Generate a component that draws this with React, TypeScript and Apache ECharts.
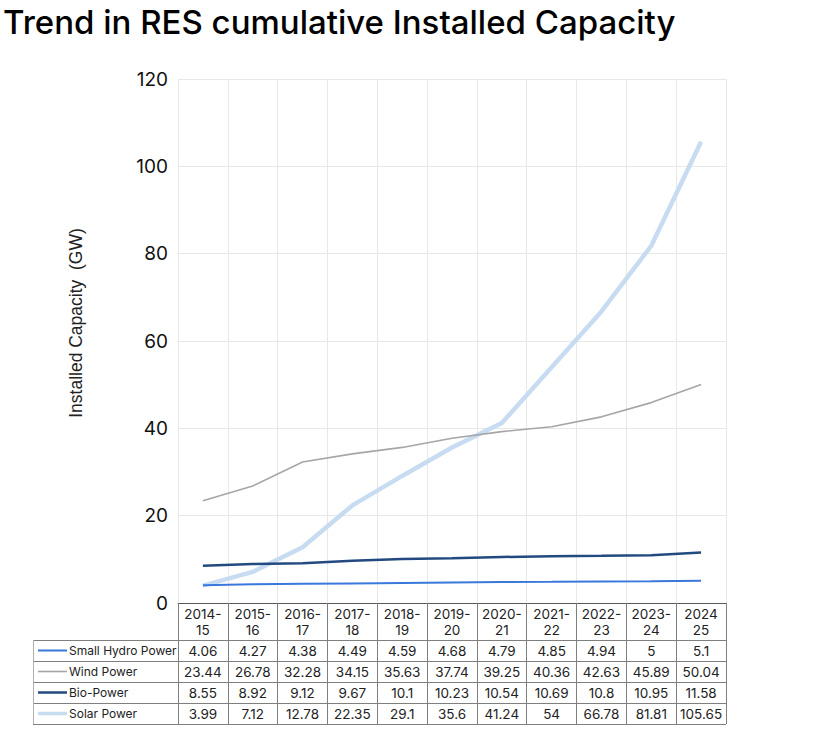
import React, { useEffect, useRef } from "react";
import * as echarts from "echarts";

const categories = ["2014-15", "2015-16", "2016-17", "2017-18", "2018-19", "2019-20", "2020-21", "2021-22", "2022-23", "2023-24", "2024-25"];
const headerLabels = ["2014-\n15", "2015-\n16", "2016-\n17", "2017-\n18", "2018-\n19", "2019-\n20", "2020-\n21", "2021-\n22", "2022-\n23", "2023-\n24", "2024\n25"];
const seriesNames = ["Small Hydro Power", "Wind Power", "Bio-Power", "Solar Power"];
const smallHydro = [4.06, 4.27, 4.38, 4.49, 4.59, 4.68, 4.79, 4.85, 4.94, 5, 5.1];
const wind = [23.44, 26.78, 32.28, 34.15, 35.63, 37.74, 39.25, 40.36, 42.63, 45.89, 50.04];
const bio = [8.55, 8.92, 9.12, 9.67, 10.1, 10.23, 10.54, 10.69, 10.8, 10.95, 11.58];
const solar = [3.99, 7.12, 12.78, 22.35, 29.1, 35.6, 41.24, 54, 66.78, 81.81, 105.65];
const yMin = 0;
const yMax = 120;
const yStep = 20;
const titleText = "Trend in RES cumulative Installed Capacity";
const yAxisTitle = "Installed Capacity  (GW)";

const seriesData = [smallHydro, wind, bio, solar];
const seriesColors = ["#3a78dc", "#a6a6a6", "#234a80", "#c8dcf1"];
const seriesWidths = [2, 1.6, 2.5, 4.5];

export default function App() {
  const ref = useRef<HTMLDivElement>(null);
  useEffect(() => {
    if (!ref.current) return;
    const chart = echarts.init(ref.current, null, { renderer: "svg" });
    const gridLeft = 178;
    const gridRight = 820 - 726;
    const gridTop = 79;
    const gridBottom = 741 - 603;
    chart.setOption({
      animation: false,
      backgroundColor: "#ffffff",
      title: {
        text: titleText,
        left: -2,
        top: 0,
        textStyle: { fontFamily: "Inter", fontSize: 33, fontWeight: 500, color: "#000" },
      },
      grid: { left: gridLeft, right: gridRight, top: gridTop, bottom: gridBottom, containLabel: false },
      xAxis: {
        type: "category",
        data: headerLabels,
        boundaryGap: true,
        axisLine: { show: true, lineStyle: { color: "#595959", width: 1 } },
        axisTick: { show: true, interval: 0, length: 121, lineStyle: { color: "#7f7f7f", width: 1 } },
        axisLabel: {
          interval: 0,
          margin: 3,
          fontFamily: "Inter",
          fontSize: 13.5,
          lineHeight: 16,
          color: "#222",
        },
        splitLine: { show: true, interval: 0, lineStyle: { color: "#e8e8e8", width: 1 } },
      },
      yAxis: {
        type: "value",
        min: yMin,
        max: yMax,
        interval: yStep,
        axisLine: { show: false },
        axisTick: { show: false },
        axisLabel: { margin: 10, fontFamily: "Inter", fontSize: 19, color: "#111", padding: [0, 0, 4, 0] },
        splitLine: { show: true, lineStyle: { color: "#e8e8e8", width: 1 } },
      },
      series: seriesNames.map((name, i) => ({
        name,
        type: "line",
        data: seriesData[i],
        showSymbol: false,
        symbol: "none",
        lineStyle: { color: seriesColors[i], width: seriesWidths[i] },
        itemStyle: { color: seriesColors[i] },
        z: i === 3 ? 1 : 2,
      })),
    });

    const xs = categories.map((_, i) => chart.convertToPixel({ xAxisIndex: 0 }, i) as number);
    const y0 = chart.convertToPixel({ yAxisIndex: 0 }, 0) as number;
    const colW = xs.length > 1 ? xs[1] - xs[0] : 50;
    const tableLeft = 33;
    const tableRight = xs[xs.length - 1] + colW / 2;
    const headerH = 37;
    const rowH = 21;
    const rowTop = y0 + headerH;
    const lineColor = "#7f7f7f";
    const elements: any[] = [];
    elements.push({
      type: "text",
      x: 76,
      y: 323,
      rotation: Math.PI / 2,
      style: { text: yAxisTitle, fontFamily: "Liberation Sans", fontSize: 17.5, fill: "#222", align: "center", verticalAlign: "middle" },
    });
    for (let r = 0; r <= seriesNames.length; r++) {
      const y = Math.round(rowTop + r * rowH) + 0.5;
      elements.push({
        type: "line",
        shape: { x1: tableLeft, y1: y, x2: tableRight, y2: y },
        style: { stroke: lineColor, lineWidth: 1 },
      });
    }
    elements.push({
      type: "line",
      shape: { x1: tableLeft + 0.5, y1: rowTop, x2: tableLeft + 0.5, y2: rowTop + seriesNames.length * rowH },
      style: { stroke: "#b0b0b0", lineWidth: 1 },
    });
    seriesNames.forEach((name, r) => {
      const cy = rowTop + r * rowH + rowH / 2;
      elements.push({
        type: "line",
        shape: { x1: 38, y1: cy, x2: 67, y2: cy },
        style: { stroke: seriesColors[r], lineWidth: Math.min(seriesWidths[r], 3.5) },
      });
      elements.push({
        type: "text",
        x: 69,
        y: cy,
        style: { text: name, fontFamily: "Inter", fontSize: 12, fill: "#222", align: "left", verticalAlign: "middle" },
      });
      seriesData[r].forEach((v, c) => {
        elements.push({
          type: "text",
          x: xs[c],
          y: cy,
          style: { text: String(v), fontFamily: "Inter", fontSize: 13.5, fill: "#222", align: "center", verticalAlign: "middle" },
        });
      });
    });
    chart.setOption({ graphic: elements });
    return () => chart.dispose();
  }, []);
  return <div ref={ref} style={{ position: "absolute", left: 0, top: 0, width: 820, height: 741 }} />;
}
